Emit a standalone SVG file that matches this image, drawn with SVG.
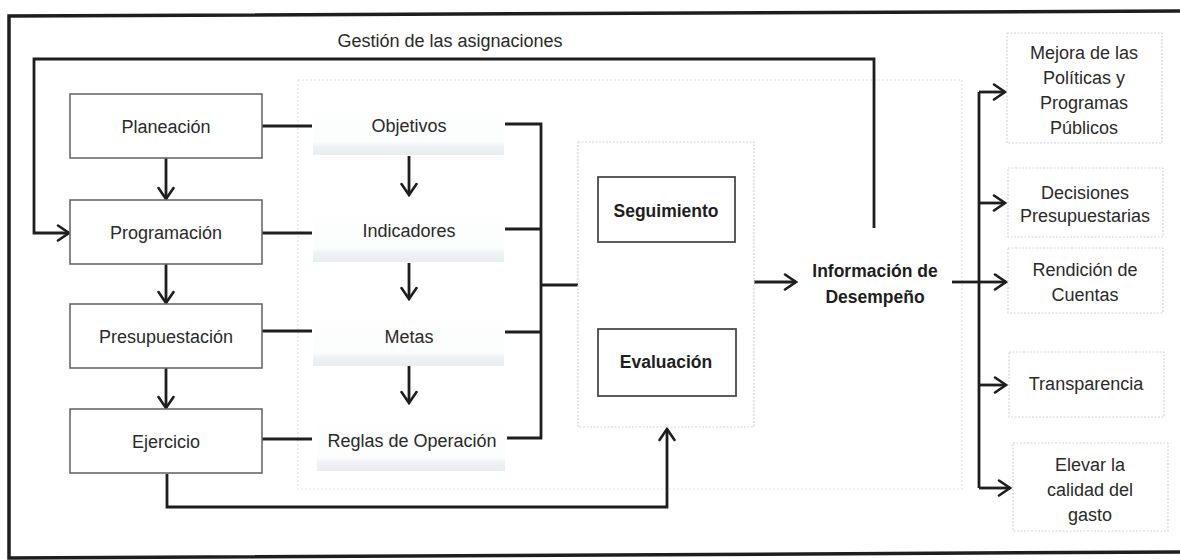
<svg xmlns="http://www.w3.org/2000/svg" width="1180" height="560" viewBox="0 0 1180 560">
<defs>
<marker id="arr" markerUnits="userSpaceOnUse" markerWidth="16" markerHeight="18" viewBox="0 0 16 18" refX="14" refY="9" orient="auto-start-reverse">
<path d="M3,1.5 L14,9 L3,16.5" fill="none" stroke="#1e1e1e" stroke-width="2.6" stroke-linecap="round" stroke-linejoin="miter"/>
</marker>
<linearGradient id="band" x1="0" y1="0" x2="0" y2="1">
<stop offset="0" stop-color="#ffffff"/>
<stop offset="0.75" stop-color="#fbfcfc"/>
<stop offset="0.85" stop-color="#eef2f4"/>
<stop offset="1" stop-color="#e8edf0"/>
</linearGradient>
<style>
text{font-family:"Liberation Sans",Arial,sans-serif;font-size:18px;fill:#2a2a2a;text-anchor:middle}
.b{font-weight:bold;font-size:17.5px;fill:#1e1e1e}
.box{fill:#fff;stroke:#6a6a6a;stroke-width:1.6}
.dbox{fill:#fff;stroke:#4a4a4a;stroke-width:1.8}
.lite{fill:#fff;stroke:#d2d6d8;stroke-width:1.2;stroke-dasharray:2 1.5}
.panel{fill:none;stroke:#e2e4e5;stroke-width:1.2;stroke-dasharray:2 2}
.item{fill:url(#band);stroke:none}
.ln{fill:none;stroke:#1e1e1e;stroke-width:2.8}
.ar{fill:none;stroke:#1e1e1e;stroke-width:2.8;marker-end:url(#arr)}
</style>
</defs>
<rect width="1180" height="560" fill="#fff"/>
<path d="M1180,11 L9,16 L9,558 L1180,552" fill="none" stroke="#1e1e1e" stroke-width="3.5"/>
<rect class="panel" x="298" y="80" width="664" height="409"/>
<text id="lbl-gestion" x="450" y="47">Gestión de las asignaciones</text>

<g id="connectors">
<path class="ar" d="M874,228 V59 H34 V233 H69"/>
<path class="ar" d="M166,158 V199"/>
<path class="ar" d="M166,264 V303"/>
<path class="ar" d="M166,368 V408"/>
<path class="ln" d="M262,126 H312"/>
<path class="ln" d="M262,233 H312"/>
<path class="ln" d="M262,331 H312"/>
<path class="ln" d="M262,439 H312"/>
<path class="ar" d="M409,156 V195"/>
<path class="ar" d="M409,263 V299"/>
<path class="ar" d="M409,366 V403"/>
<path class="ln" d="M505,124 H541 V438 H507"/>
<path class="ln" d="M505,229 H541"/>
<path class="ln" d="M505,332 H541"/>
<path class="ln" d="M541,285 H578"/>
<path class="ar" d="M665,326 V245" style="marker-start:url(#arr)"/>
<path class="ar" d="M167,474 V507 H667 V429"/>
<path class="ar" d="M754,282 H796"/>
<path class="ln" d="M952,282 H979"/>
<path class="ln" d="M979,92 V488"/>
<path class="ar" d="M979,92 H1005"/>
<path class="ar" d="M979,203 H1005"/>
<path class="ar" d="M979,282 H1006"/>
<path class="ar" d="M979,385 H1006"/>
<path class="ar" d="M979,488 H1010"/>
</g>

<g id="planeacion"><rect class="box" x="70" y="94" width="192" height="64"/><text x="166" y="133">Planeación</text></g>
<g id="programacion"><rect class="box" x="70" y="200" width="192" height="64"/><text x="166" y="239">Programación</text></g>
<g id="presupuestacion"><rect class="box" x="70" y="304" width="192" height="64"/><text x="166" y="343">Presupuestación</text></g>
<g id="ejercicio"><rect class="box" x="70" y="409" width="192" height="64"/><text x="166" y="448">Ejercicio</text></g>

<g id="objetivos"><rect class="item" x="313" y="102" width="191" height="53"/><text x="409" y="132">Objetivos</text></g>
<g id="indicadores"><rect class="item" x="313" y="207" width="191" height="55"/><text x="409" y="237">Indicadores</text></g>
<g id="metas"><rect class="item" x="313" y="312" width="191" height="54"/><text x="409" y="343">Metas</text></g>
<g id="reglas"><rect class="item" x="317" y="416" width="188" height="55"/><text x="412" y="447">Reglas de Operación</text></g>

<g id="evaluacion-grupo"><rect class="lite" x="578" y="142" width="176" height="285"/></g>
<g id="seguimiento"><rect class="dbox" x="598" y="177" width="137" height="65"/><text class="b" x="666" y="217">Seguimiento</text></g>
<g id="evaluacion"><rect class="dbox" x="598" y="329" width="138" height="67"/><text class="b" x="666" y="368">Evaluación</text></g>

<g id="informacion"><text class="b" x="875" y="277">Información de</text><text class="b" x="875" y="303">Desempeño</text></g>

<g id="mejora"><rect class="lite" x="1007" y="33" width="155" height="110"/><text x="1084" y="59">Mejora de las</text><text x="1084" y="84">Políticas y</text><text x="1084" y="109">Programas</text><text x="1084" y="134">Públicos</text></g>
<g id="decisiones"><rect class="lite" x="1008" y="168" width="155" height="69"/><text x="1085" y="199">Decisiones</text><text x="1085" y="222">Presupuestarias</text></g>
<g id="rendicion"><rect class="lite" x="1008" y="248" width="155" height="65"/><text x="1085" y="276">Rendición de</text><text x="1085" y="301">Cuentas</text></g>
<g id="transparencia"><rect class="lite" x="1009" y="352" width="155" height="65"/><text x="1086" y="390">Transparencia</text></g>
<g id="elevar"><rect class="lite" x="1013" y="443" width="155" height="88"/><text x="1090" y="471">Elevar la</text><text x="1090" y="496">calidad del</text><text x="1090" y="521">gasto</text></g>
</svg>
